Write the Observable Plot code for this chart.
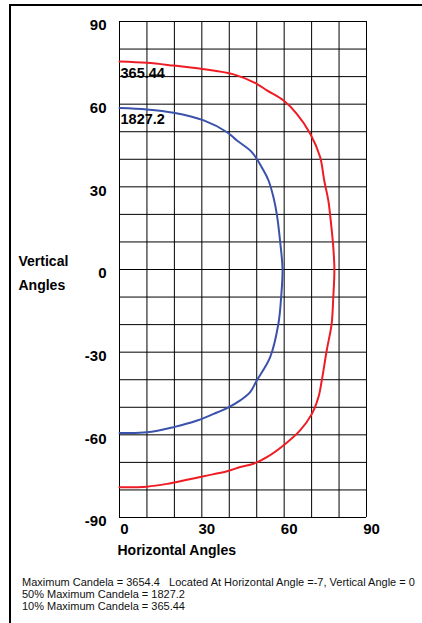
<!DOCTYPE html>
<html>
<head>
<meta charset="utf-8">
<script src="https://cdn.jsdelivr.net/npm/d3@7"></script>
<script src="https://cdn.jsdelivr.net/npm/@observablehq/plot@0.6"></script>
<style>
  html, body { margin: 0; padding: 0; background: #fff; }
  #wrap { position: relative; width: 422px; height: 623px; overflow: hidden; font-family: Arial, "Liberation Sans", Helvetica, sans-serif; }
  #border { position: absolute; left: 9px; top: 4px; width: 440px; height: 660px; border-left: 2px solid #000; border-top: 2px solid #000; box-sizing: border-box; }
  #chart { position: absolute; left: 0; top: 0; }
  #caption { position: absolute; left: 22px; top: 575.5px; font-size: 11px; line-height: 12.4px; color: #111; white-space: pre; }
</style>
</head>
<body>
<div id="wrap">
  <div id="border"></div>
  <div id="chart"></div>
  <div id="caption"></div>
</div>
<script>
// Horizontal / vertical angles of the 10% iso-candela curve (365.44 cd)
const redH = [0, 10, 19.7, 30, 41.6, 50, 53.7, 59.8, 64.6, 69.5, 73.1, 74.6, 76.1, 76.7, 77.9, 78.3, 77.9, 77.3, 75.5, 73.7, 72.5, 70.1, 65.8, 60.4, 53.7, 48.8, 44, 39.2, 30.7, 24.6, 17.3, 10, 0];
const redV = [75.5, 75.0, 74.0, 72.8, 70.8, 67.4, 65, 61.3, 56.5, 49.3, 40.8, 32.3, 25, 20.2, 8.1, 0, -10, -19.7, -29.4, -40.3, -46.3, -52.4, -58.4, -63.3, -68.1, -70.5, -71.7, -73.2, -75, -76.3, -77.8, -78.8, -79];
// 50% iso-candela curve (1827.2 cd)
const blueH = [0, 10, 19.7, 30.7, 39.2, 42.8, 48.2, 52.5, 54.3, 56.1, 57.3, 58.5, 59.4, 58.9, 57.9, 54.9, 50, 47.6, 44, 39.7, 34.3, 28.3, 19.7, 10, 0];
const blueV = [58.6, 58.1, 56.9, 54.1, 49.8, 46.8, 42.6, 35.9, 32.3, 26.2, 20.2, 10.5, 0, -10, -19.7, -31.8, -40.3, -44.5, -47.5, -50, -52.4, -54.8, -57.2, -59.1, -59.3];

const curveNames = ["365.44", "1827.2"];
const curveColors = ["#ee1c24", "#3a52ac"];

const gridTicksX = [0, 10, 20, 30, 40, 50, 60, 70, 80, 90];
const gridTicksY = [-90, -80, -70, -60, -50, -40, -30, -20, -10, 0, 10, 20, 30, 40, 50, 60, 70, 80, 90];
const labelTicksX = [0, 30, 60, 90];
const labelTicksY = [-90, -60, -30, 0, 30, 60, 90];

const xTitle = "Horizontal Angles";
const yTitle = "Vertical\nAngles";
const captionLines = [
  "Maximum Candela = 3654.4   Located At Horizontal Angle =-7, Vertical Angle = 0",
  "50% Maximum Candela = 1827.2",
  "10% Maximum Candela = 365.44"
];

const red = redH.map((h, i) => ({h, v: redV[i]}));
const blue = blueH.map((h, i) => ({h, v: blueV[i]}));
const plainFormat = d => String(d);

const plot = Plot.plot({
  width: 422,
  height: 570,
  marginLeft: 119,
  marginRight: 56,
  marginTop: 21,
  marginBottom: 53,
  style: {fontFamily: "Arial, 'Liberation Sans', Helvetica, sans-serif", background: "transparent", color: "#000"},
  x: {domain: [0, 90]},
  y: {domain: [-90, 90]},
  marks: [
    Plot.gridX(gridTicksX, {stroke: "#000", strokeOpacity: 1, strokeWidth: 1}),
    Plot.gridY(gridTicksY, {stroke: "#000", strokeOpacity: 1, strokeWidth: 1}),
    Plot.axisX(labelTicksX, {tickSize: 0, tickPadding: 6, dx: 5, fontSize: 15, fontWeight: "bold", label: null, tickFormat: plainFormat}),
    Plot.axisY(labelTicksY, {tickSize: 0, tickPadding: 13, dy: 4, fontSize: 15, fontWeight: "bold", label: null, tickFormat: plainFormat}),
    Plot.line(red, {x: "h", y: "v", stroke: curveColors[0], strokeWidth: 2, curve: "catmull-rom"}),
    Plot.line(blue, {x: "h", y: "v", stroke: curveColors[1], strokeWidth: 2, curve: "catmull-rom"}),
    Plot.text([red[0]], {x: "h", y: "v", text: () => curveNames[0], textAnchor: "start", lineAnchor: "top", dx: 1, dy: 6, fontSize: 14.5, fontWeight: "bold", fill: "#000"}),
    Plot.text([blue[0]], {x: "h", y: "v", text: () => curveNames[1], textAnchor: "start", lineAnchor: "top", dx: 1, dy: 6, fontSize: 14.5, fontWeight: "bold", fill: "#000"}),
    Plot.text([xTitle], {frameAnchor: "bottom-left", text: d => d, textAnchor: "start", lineAnchor: "top", dx: -2, dy: 28, fontSize: 14, fontWeight: "bold", fill: "#000"}),
    Plot.text([yTitle], {frameAnchor: "left", text: d => d, textAnchor: "start", lineAnchor: "middle", dx: -101, dy: 1, lineHeight: 1.7, fontSize: 14, fontWeight: "bold", fill: "#000"})
  ]
});
document.getElementById("chart").appendChild(plot);
const cap = document.getElementById("caption");
for (const line of captionLines) {
  const div = document.createElement("div");
  div.textContent = line;
  cap.appendChild(div);
}
</script>
</body>
</html>
